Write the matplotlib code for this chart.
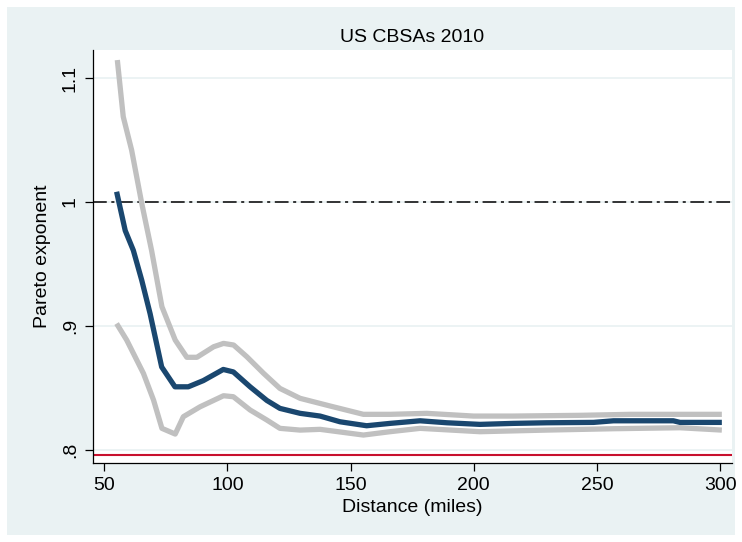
import matplotlib.pyplot as plt
from matplotlib.patches import Rectangle
import numpy as np

# values (distance in miles, Pareto exponent)
dist_mid = [55, 58.5, 61.8, 65.2, 68.6, 73.3, 78.7, 84.1, 90.2, 98.3, 102.4, 109.2, 116, 121.3,
            129.5, 137.6, 145.7, 156.5, 166, 178.2, 189.1, 202.5, 216, 229.6, 248.6, 256.7,
            281, 283.7, 300.7]
pareto_mid = [1.0083, 0.977, 0.961, 0.937, 0.910, 0.867, 0.851, 0.851, 0.856, 0.865, 0.863, 0.851,
              0.840, 0.8336, 0.8296, 0.8274, 0.8228, 0.8196, 0.8215, 0.8236, 0.822, 0.8207,
              0.8215, 0.822, 0.8223, 0.8236, 0.8236, 0.8223, 0.8223]

dist_hi = [55.3, 57.7, 61.1, 65.2, 69.2, 73.4, 78.8, 83.5, 87.6, 94.4, 98.4, 102.5, 107.9, 114.7,
           121.3, 129.5, 141.7, 155.2, 166, 180.9, 199.9, 216, 243.2, 263.5, 300.7]
pareto_hi = [1.1145, 1.0688, 1.0419, 0.999, 0.961, 0.9156, 0.8887, 0.8748, 0.8748, 0.8833, 0.886,
             0.8847, 0.8752, 0.8618, 0.8497, 0.8417, 0.8355, 0.8288, 0.8288, 0.8296, 0.8274,
             0.8274, 0.828, 0.8288, 0.8288]

dist_lo = [55, 59.1, 65.9, 70, 73.4, 78.8, 82.1, 88.9, 98.4, 102.4, 109.2, 116, 121.3, 129.5,
           137.6, 155.2, 166, 178.2, 202.5, 229.6, 256.7, 283.7, 300.7]
pareto_lo = [0.902, 0.8887, 0.8618, 0.8403, 0.8175, 0.8129, 0.8269, 0.8349, 0.8438, 0.843, 0.8323,
             0.8242, 0.8175, 0.8161, 0.8167, 0.8121, 0.8148, 0.8175, 0.8148, 0.8161, 0.8172,
             0.818, 0.8161]

ref_one = 1.0
ref_low = 0.7962

W, H = 742, 542
bg = '#eaf2f3'
plt.rcParams['font.family'] = ['Liberation Sans Narrow', 'Liberation Sans', 'DejaVu Sans']

fig = plt.figure(figsize=(W / 100, H / 100), dpi=100, facecolor='white')
fig.add_artist(Rectangle((7 / W, 7 / H), (735 - 7) / W, (535 - 7) / H,
                         transform=fig.transFigure, facecolor=bg, edgecolor='none', zorder=-5))

ax = fig.add_axes([92.7 / W, 1 - 462.7 / H, (731.7 - 92.7) / W, (462.7 - 50) / H])
ax.set_facecolor('white')
ax.set_xlim(45.3, 304.7)
ax.set_ylim(0.7898, 1.1226)

for v in [0.8, 0.9, 1.0, 1.1]:
    ax.axhline(v, color=bg, lw=1.3, zorder=1)

ax.plot(dist_hi, pareto_hi, color='#c0c0c0', lw=3.8, solid_capstyle='butt', zorder=3)
ax.plot(dist_lo, pareto_lo, color='#c0c0c0', lw=3.8, solid_capstyle='butt', zorder=3)
ax.plot(dist_mid, pareto_mid, color='#1a476f', lw=3.8, solid_capstyle='butt', zorder=4)
ax.axhline(ref_one, color='black', lw=1.1, dashes=(9, 3, 2, 3), zorder=2)
ax.axhline(ref_low, color='#c8102e', lw=1.5, zorder=2)

for s in ['top', 'right']:
    ax.spines[s].set_visible(False)
for s in ['left', 'bottom']:
    ax.spines[s].set_color('black')
    ax.spines[s].set_linewidth(0.9)

ax.set_xticks([50, 100, 150, 200, 250, 300])
ax.set_yticks([0.8, 0.9, 1.0, 1.1])
ax.set_yticklabels(['.8', '.9', '1', '1.1'], rotation=90, va='center')
ax.tick_params(axis='both', labelsize=14, length=6, width=0.9, color='black', pad=4)

ax.set_xlabel('Distance (miles)', fontsize=14, labelpad=4)
ax.set_ylabel('Pareto exponent', fontsize=14, labelpad=8)
ax.set_title('US CBSAs 2010', fontsize=14, pad=6)

fig.savefig('out.png', dpi=100, facecolor='white')
